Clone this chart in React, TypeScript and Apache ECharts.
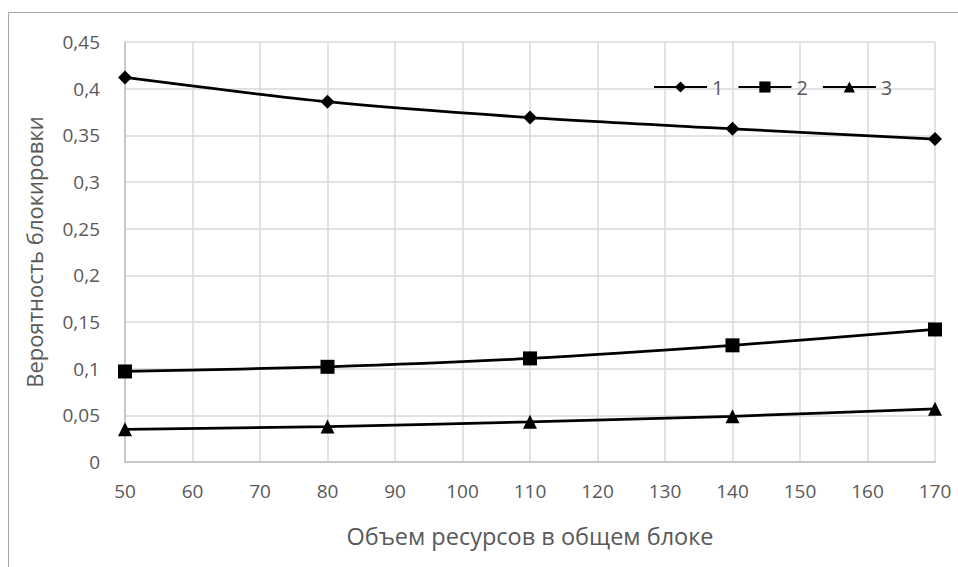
import React, { useEffect, useRef } from "react";
import * as echarts from "echarts";

const xValues = [50, 80, 110, 140, 170];
const series1 = [0.412, 0.386, 0.369, 0.357, 0.346];
const series2 = [0.097, 0.102, 0.111, 0.125, 0.142];
const series3 = [0.035, 0.038, 0.043, 0.049, 0.057];
const seriesNames = ["1", "2", "3"];
const xAxisTitle = "Объем ресурсов в общем блоке";
const yAxisTitle = "Вероятность блокировки";

const font = "'Open Sans', 'Noto Sans', sans-serif";
const textColor = "#595959";

const fmt = (v: number) => String(Math.round(v * 1000) / 1000).replace(".", ",");

export default function App() {
  const ref = useRef<HTMLDivElement>(null);
  useEffect(() => {
    if (!ref.current) return;
    const chart = echarts.init(ref.current, undefined, { renderer: "svg" });
    const mk = (name: string, vals: number[], symbol: string, size: number) => ({
      name,
      type: "line",
      smooth: 0.3,
      data: xValues.map((x, i) => [x, vals[i]]),
      symbol,
      symbolSize: size,
      lineStyle: { color: "#000", width: 2.75 },
      itemStyle: { color: "#000" },
    });
    chart.setOption({
      animation: false,
      textStyle: { fontFamily: font },
      graphic: [
        {
          type: "rect",
          shape: { x: 8.5, y: 12.5, width: 1000, height: 600 },
          style: { fill: "none", stroke: "#a6a6a6", lineWidth: 1 },
          silent: true,
        },
      ],
      grid: { left: 125, right: 23, top: 42, bottom: 105, containLabel: false },
      legend: {
        left: 648,
        top: 72,
        itemWidth: 53,
        itemHeight: 14,
        itemGap: 14,
        textStyle: { color: textColor, fontSize: 20, fontFamily: font },
        data: seriesNames,
      },
      xAxis: {
        type: "value",
        min: 50,
        max: 170,
        interval: 10,
        name: xAxisTitle,
        nameLocation: "middle",
        nameGap: 62,
        nameTextStyle: { color: textColor, fontSize: 23.5, fontFamily: font },
        axisLine: { show: true, lineStyle: { color: "#bfbfbf", width: 1.5 } },
        axisTick: { show: false },
        axisLabel: { color: textColor, fontSize: 19, margin: 19, fontFamily: font, formatter: fmt },
        splitLine: { show: true, lineStyle: { color: "#d9d9d9", width: 1.5 } },
      },
      yAxis: {
        type: "value",
        min: 0,
        max: 0.45,
        interval: 0.05,
        name: yAxisTitle,
        nameLocation: "middle",
        nameGap: 80,
        nameRotate: 90,
        nameTextStyle: { color: textColor, fontSize: 22, fontFamily: font },
        axisLine: { show: true, lineStyle: { color: "#bfbfbf", width: 1.5 } },
        axisTick: { show: false },
        axisLabel: { color: textColor, fontSize: 19, margin: 25, fontFamily: font, formatter: fmt },
        splitLine: { show: true, lineStyle: { color: "#d9d9d9", width: 1.5 } },
      },
      series: [
        mk(seriesNames[0], series1, "diamond", 14),
        mk(seriesNames[1], series2, "rect", 14),
        mk(seriesNames[2], series3, "triangle", 14),
      ],
    });
    return () => chart.dispose();
  }, []);
  return (
    <div
      ref={ref}
      style={{ position: "fixed", left: 0, top: 0, width: 958, height: 567, background: "#fff" }}
    />
  );
}
